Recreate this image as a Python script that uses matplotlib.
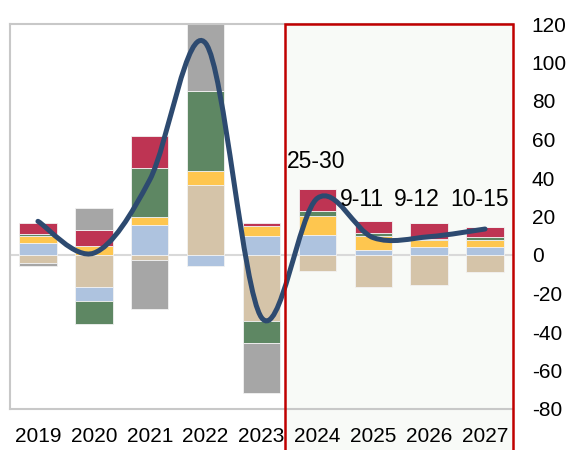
import matplotlib.pyplot as plt
from matplotlib.patches import Rectangle
from matplotlib.path import Path
from matplotlib.patches import PathPatch
import matplotlib.transforms as mtransforms
import numpy as np

years = ["2019", "2020", "2021", "2022", "2023", "2024", "2025", "2026", "2027"]

# stacked contributions, bottom-up order
tan = [-4.0, -16.7, -2.7, 36.5, -34.3, -8.4, -16.7, -15.8, -8.9]
blue = [6.0, -7.3, 15.5, -5.8, 9.7, 10.3, 2.5, 4.0, 4.0]
yellow = [4.0, 4.5, 4.0, 7.0, 5.6, 9.8, 7.3, 4.0, 4.0]
green = [1.0, -12.0, 25.5, 41.5, -11.6, 2.6, 1.7, 0.3, 1.4]
red = [5.5, 8.3, 17.0, 0.3, 1.2, 11.6, 6.0, 8.3, 5.2]
gray = [-1.5, 11.6, -25.2, 40.0, -26.0, 0.0, 0.0, 0.0, 0.0]

total = [17.5, 1.0, 39.0, 110.0, -32.5, 29.5, 9.0, 9.5, 13.5]

range_labels = ["25-30", "9-11", "9-12", "10-15"]
range_x = [4.98, 5.8, 6.78, 7.9]
range_y = [48.7, 28.8, 28.8, 28.8]

series = [
    (tan, "#D5C4A9"),
    (blue, "#AEC3DF"),
    (yellow, "#FEC64F"),
    (green, "#5E8763"),
    (red, "#BE3453"),
    (gray, "#A6A6A6"),
]

plt.rcParams["font.family"] = ["Liberation Sans", "DejaVu Sans"]
plt.rcParams["axes.unicode_minus"] = False

fig = plt.figure(figsize=(5.66, 4.5), dpi=100)
ax = fig.add_axes([10 / 566, 41 / 450, 503 / 566, 385 / 450])
ax.set_facecolor("none")

x = np.arange(len(years))
pos_bottom = np.zeros(len(years))
neg_bottom = np.zeros(len(years))
for vals, col in series:
    v = np.array(vals)
    bottom = np.where(v >= 0, pos_bottom, neg_bottom)
    ax.bar(x, v, width=0.67, bottom=bottom, color=col, edgecolor="#f2f2f2",
           linewidth=0.6, zorder=2)
    pos_bottom += np.where(v >= 0, v, 0)
    neg_bottom += np.where(v < 0, v, 0)


# smoothed line like excel (bezier through the points)
def smooth_path(xs, ys):
    pts = list(zip(xs, ys))
    verts = [pts[0]]
    codes = [Path.MOVETO]
    n = len(pts)
    for i in range(n - 1):
        p0 = pts[i - 1] if i > 0 else pts[i]
        p1 = pts[i]
        p2 = pts[i + 1]
        p3 = pts[i + 2] if i + 2 < n else pts[i + 1]
        c1 = (p1[0] + (p2[0] - p0[0]) / 6, p1[1] + (p2[1] - p0[1]) / 6)
        c2 = (p2[0] - (p3[0] - p1[0]) / 6, p2[1] - (p3[1] - p1[1]) / 6)
        verts += [c1, c2, p2]
        codes += [Path.CURVE4] * 3
    return Path(verts, codes)


line = PathPatch(smooth_path(x, total), facecolor="none", edgecolor="#2D4A70",
                 linewidth=3.6, capstyle="round", zorder=3)
ax.add_patch(line)

ax.axhline(0, color="#D9D9D9", linewidth=1.5, zorder=1)

# forecast box
trans = mtransforms.blended_transform_factory(ax.transData, ax.transAxes)
ax.add_patch(Rectangle((4.42, -0.2), 4.08, 1.2, transform=trans,
                       facecolor="#F8FAF7", edgecolor="none", zorder=0.1,
                       clip_on=False))
ax.add_patch(Rectangle((4.42, -0.2), 4.08, 1.2, transform=trans,
                       facecolor="none", edgecolor="#C00000", linewidth=1.8,
                       zorder=4, clip_on=False))

for lab, lx, ly in zip(range_labels, range_x, range_y):
    ax.text(lx, ly, lab, ha="center", va="center", fontsize=16.5, zorder=5)

ax.set_xlim(-0.5, 8.5)
ax.set_ylim(-80, 120)
ax.set_xticks(x)
ax.set_xticklabels(years)
ax.set_yticks(np.arange(-80, 121, 20))
ax.yaxis.tick_right()
ax.tick_params(axis="both", length=0, labelsize=15)
ax.tick_params(axis="x", pad=13)
ax.tick_params(axis="y", pad=13.5)
for lab in ax.get_yticklabels():
    lab.set_horizontalalignment("left")

for s in ["left", "top", "bottom"]:
    ax.spines[s].set_color("#C8C8C8")
    ax.spines[s].set_linewidth(1.5)
ax.spines["right"].set_visible(False)

fig.savefig("out.png", dpi=100)
